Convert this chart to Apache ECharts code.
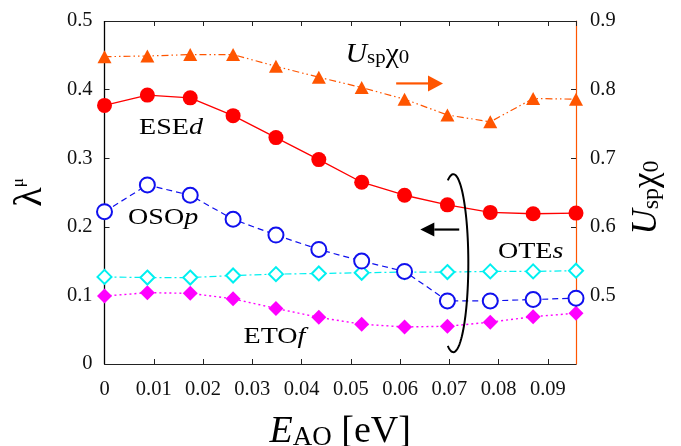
<!DOCTYPE html>
<html>
<head>
<meta charset="utf-8">
<script src="https://cdn.jsdelivr.net/npm/echarts@6/dist/echarts.min.js"></script>
<style>
  html, body { margin: 0; padding: 0; background: #fff; }
  #chart { width: 681px; height: 446px; }
</style>
</head>
<body>
<div id="chart"></div>
<script>
// Energy of the AO splitting [eV]
const energies = [0, 0.0087, 0.0174, 0.0261, 0.0348, 0.0435, 0.0522, 0.0609, 0.0696, 0.0783, 0.087, 0.0957];

// Eigenvalues lambda^mu of each pairing channel (left axis)
const eseD = [0.377, 0.392, 0.388, 0.362, 0.330, 0.298, 0.265, 0.246, 0.232, 0.221, 0.219, 0.220];
const osoP = [0.222, 0.261, 0.246, 0.211, 0.188, 0.167, 0.150, 0.135, 0.092, 0.092, 0.094, 0.096];
const oteS = [0.127, 0.126, 0.126, 0.129, 0.131, 0.132, 0.133, 0.134, 0.134, 0.135, 0.135, 0.136];
const etoF = [0.099, 0.104, 0.103, 0.095, 0.081, 0.068, 0.058, 0.054, 0.055, 0.061, 0.069, 0.074];

// Stoner factor U_sp chi_0 (right axis)
const uspChi0 = [0.848, 0.849, 0.851, 0.851, 0.834, 0.818, 0.803, 0.786, 0.763, 0.753, 0.787, 0.786];

// Tick values
const xTicks = [0, 0.01, 0.02, 0.03, 0.04, 0.05, 0.06, 0.07, 0.08, 0.09];
const leftTicks = [0, 0.1, 0.2, 0.3, 0.4, 0.5];
const rightTicks = [0.5, 0.6, 0.7, 0.8, 0.9];

const FONT = 'Liberation Serif';
const ORANGE = '#ff5500';
const FRAME = '#222222';

const pairs = ys => energies.map((x, i) => [x, ys[i]]);

function lineSeries(name, ys, opts) {
  return Object.assign({
    name: name,
    type: 'line',
    data: pairs(ys),
    xAxisIndex: 0,
    yAxisIndex: 0,
    animation: false,
    z: 3
  }, opts);
}

const chart = echarts.init(document.getElementById('chart'), null, { renderer: 'canvas' });

const tick = () => ({ show: true, inside: true, length: 5, lineStyle: { color: FRAME, width: 1 } });
const frameLine = color => ({ show: true, onZero: false, lineStyle: { color: color, width: 1.2 } });

const option = {
  backgroundColor: '#fff',
  animation: false,
  textStyle: { fontFamily: FONT },
  grid: { left: 104.5, right: 105, top: 21, bottom: 82, containLabel: false, outerBoundsMode: 'none' },
  xAxis: [
    {
      type: 'value', position: 'bottom',
      min: 0, max: 0.0957, interval: 0.01,
      axisLine: frameLine(FRAME),
      axisTick: tick(),
      splitLine: { show: false },
      axisLabel: {
        showMaxLabel: false,
        margin: 15,
        fontFamily: FONT, fontSize: 20.5, color: '#111',
        formatter: v => (xTicks.some(t => Math.abs(t - v) < 1e-9) ? (v === 0 ? '0' : v.toFixed(2)) : '')
      },
      name: '{e|E}{ao|AO}{br| [eV]}',
      nameLocation: 'middle',
      nameGap: 47,
      nameTextStyle: {
        fontFamily: FONT, color: '#000',
        rich: {
          e: { fontFamily: FONT, fontSize: 38, fontStyle: 'italic', lineHeight: 40, verticalAlign: 'bottom' },
          ao: { fontFamily: FONT, fontSize: 27, lineHeight: 34, verticalAlign: 'bottom' },
          br: { fontFamily: FONT, fontSize: 38, lineHeight: 40, verticalAlign: 'bottom' }
        }
      }
    },
    {
      type: 'value', position: 'top',
      min: 0, max: 0.0957, interval: 0.01,
      axisLine: frameLine(FRAME),
      axisTick: tick(),
      axisLabel: { show: false },
      splitLine: { show: false }
    }
  ],
  yAxis: [
    {
      type: 'value', position: 'left',
      min: 0, max: 0.5, interval: 0.1,
      // the left frame edge is drawn as a graphic line below
      axisLine: { show: false },
      axisTick: tick(),
      splitLine: { show: false },
      axisLabel: {
        margin: 12,
        fontFamily: FONT, fontSize: 20.5, color: '#111',
        formatter: v => (leftTicks.some(t => Math.abs(t - v) < 1e-9) ? (v === 0 ? '0' : v.toFixed(1)) : '')
      },
      name: '{l|λ}{m|μ}',
      nameLocation: 'middle',
      nameGap: 54,
      nameTextStyle: {
        fontFamily: FONT, color: '#000',
        rich: {
          l: { fontFamily: FONT, fontSize: 40, lineHeight: 40, verticalAlign: 'bottom' },
          m: { fontFamily: FONT, fontSize: 17, lineHeight: 12, verticalAlign: 'top' }
        }
      }
    },
    {
      type: 'value', position: 'right',
      min: 0.4, max: 0.9, interval: 0.1,
      axisLine: frameLine(ORANGE),
      axisTick: tick(),
      splitLine: { show: false },
      axisLabel: {
        showMinLabel: false,
        margin: 14,
        fontFamily: FONT, fontSize: 20.5, color: '#111',
        formatter: v => (rightTicks.some(t => Math.abs(t - v) < 1e-9) ? v.toFixed(1) : '')
      },
      name: '{u|U}{sp|sp}{c|χ}{z|0}',
      nameLocation: 'middle',
      nameGap: 52,
      nameTextStyle: {
        fontFamily: FONT, color: '#000',
        padding: [0, 10, 0, 0],
        rich: {
          u: { fontFamily: FONT, fontSize: 35, fontStyle: 'italic', lineHeight: 36, verticalAlign: 'bottom' },
          sp: { fontFamily: FONT, fontSize: 24, lineHeight: 30, verticalAlign: 'bottom' },
          c: { fontFamily: FONT, fontSize: 35, lineHeight: 36, verticalAlign: 'bottom' },
          z: { fontFamily: FONT, fontSize: 24, lineHeight: 22, verticalAlign: 'bottom' }
        }
      }
    }
  ],
  series: [
    lineSeries('Usp chi0', uspChi0, {
      yAxisIndex: 1,
      symbol: 'triangle', symbolSize: [14, 13],
      itemStyle: { color: ORANGE },
      lineStyle: { color: ORANGE, width: 1.2, type: [7, 3, 1.5, 3, 1.5, 3] }
    }),
    lineSeries('ETOf', etoF, {
      symbol: 'diamond', symbolSize: 15,
      itemStyle: { color: '#ff00ff' },
      lineStyle: { color: '#ff00ff', width: 1.4, type: [2, 3] }
    }),
    lineSeries('OTEs', oteS, {
      symbol: 'emptyDiamond', symbolSize: 14,
      itemStyle: { color: '#00f0f0', borderWidth: 1.4 },
      lineStyle: { color: '#00f0f0', width: 1.2, type: [7, 3, 2, 3] }
    }),
    lineSeries('OSOp', osoP, {
      symbol: 'emptyCircle', symbolSize: 15,
      itemStyle: { color: '#1010ee', borderWidth: 1.5 },
      lineStyle: { color: '#1010ee', width: 1.2, type: [6, 4] }
    }),
    lineSeries('ESEd', eseD, {
      symbol: 'circle', symbolSize: 15,
      itemStyle: { color: '#ff0000' },
      lineStyle: { color: '#ff0000', width: 1.3, type: 'solid' }
    })
  ]
};

chart.setOption(option);

// Annotations anchored in data coordinates of the left axis
const px = (x, y) => chart.convertToPixel({ xAxisIndex: 0, yAxisIndex: 0 }, [x, y]);

// Left frame edge, drawn beneath the markers
const lb = px(0, 0), lt = px(0, 0.5);
const graphics = [{
  type: 'line', z: 2,
  shape: { x1: lb[0], y1: lb[1], x2: lt[0], y2: lt[1] },
  style: { stroke: '#000000', lineWidth: 1.3 }
}];

const labelRich = {
  n: { fontFamily: FONT, fontSize: 23, fill: '#000' },
  i: { fontFamily: FONT, fontSize: 23, fontStyle: 'italic', fill: '#000' }
};

const channelLabels = [
  { text: '{n|ESE}{i|d}', at: [0.0135, 0.344] },
  { text: '{n|OSO}{i|p}', at: [0.0119, 0.213] },
  { text: '{n|OTE}{i|s}', at: [0.0865, 0.164] },
  { text: '{n|ETO}{i|f}', at: [0.0345, 0.040] }
];

channelLabels.forEach(l => {
  const p = px(l.at[0], l.at[1]);
  graphics.push({
    type: 'text', x: p[0], y: p[1], z: 10, scaleX: 1.22,
    style: { text: l.text, rich: labelRich, align: 'center', verticalAlign: 'middle' }
  });
});

// U_sp chi_0 label with its arrow pointing to the right axis
const uLab = px(0.0554, 0.452);
graphics.push({
  type: 'text', x: uLab[0], y: uLab[1], z: 10, scaleX: 1.1,
  style: {
    text: '{u|U}{sp|sp}{c|χ}{z|0}', align: 'center', verticalAlign: 'middle',
    rich: {
      u: { fontFamily: FONT, fontSize: 27, fontStyle: 'italic', lineHeight: 28, verticalAlign: 'bottom', fill: '#000' },
      sp: { fontFamily: FONT, fontSize: 19, lineHeight: 24, verticalAlign: 'bottom', fill: '#000' },
      c: { fontFamily: FONT, fontSize: 27, lineHeight: 28, verticalAlign: 'bottom', fill: '#000' },
      z: { fontFamily: FONT, fontSize: 19, lineHeight: 16, verticalAlign: 'bottom', fill: '#000' }
    }
  }
});

function arrow(from, to, color, headLen, headHalf) {
  const dx = to[0] - from[0], dy = to[1] - from[1];
  const len = Math.hypot(dx, dy), ux = dx / len, uy = dy / len;
  const base = [to[0] - ux * headLen, to[1] - uy * headLen];
  return [
    { type: 'line', z: 10, shape: { x1: from[0], y1: from[1], x2: base[0], y2: base[1] },
      style: { stroke: color, lineWidth: 2.2 } },
    { type: 'polygon', z: 10,
      shape: { points: [to, [base[0] - uy * headHalf, base[1] + ux * headHalf], [base[0] + uy * headHalf, base[1] - ux * headHalf]] },
      style: { fill: color } }
  ];
}

graphics.push(...arrow(px(0.0592, 0.409), px(0.0687, 0.409), ORANGE, 15, 8));
graphics.push(...arrow(px(0.0720, 0.196), px(0.0641, 0.196), '#000', 14, 7));

// Open ellipse grouping the lower channels
const ec = px(0.0708, 0.147);
const ryPx = px(0, 0)[1] - px(0, 0.1297)[1];
const rxPx = 15;
const a0 = -Math.PI * 0.62, a1 = Math.PI * 0.62;
const pts = [];
for (let k = 0; k <= 80; k++) {
  const t = a0 + (a1 - a0) * k / 80;
  pts.push([ec[0] + rxPx * Math.cos(t), ec[1] + ryPx * Math.sin(t)]);
}
graphics.push({
  type: 'polyline', z: 10,
  shape: { points: pts, smooth: 0 },
  style: { stroke: '#000', lineWidth: 2, fill: null }
});

chart.setOption({ graphic: graphics });
</script>
</body>
</html>
